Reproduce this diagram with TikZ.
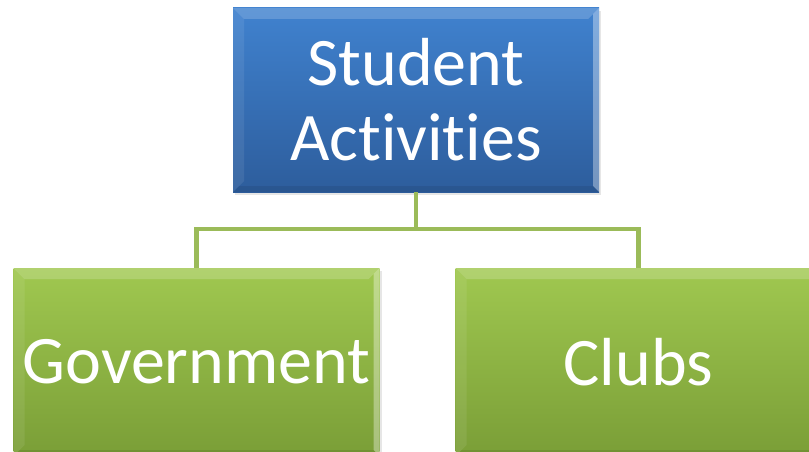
\documentclass[tikz,border=0pt]{standalone}
\usepackage{fontspec}
\setmainfont{Carlito}[Ligatures={NoCommon}]
\usepackage{xcolor}
\usetikzlibrary{shadows}

\definecolor{topblue}{HTML}{4082CF}
\definecolor{botblue}{HTML}{2D5D9C}
\definecolor{topgreen}{HTML}{A0C850}
\definecolor{botgreen}{HTML}{7A9E37}
\definecolor{linkgreen}{HTML}{9BBB59}

\tikzset{
  box/.style={rectangle, minimum width=366pt, minimum height=184pt, inner sep=0pt,
    text=white, align=center, font=\fontsize{68}{75}\selectfont,
    drop shadow={opacity=0.2, shadow xshift=2pt, shadow yshift=-3pt},
    path picture={
      \fill[white, opacity=0.18] (path picture bounding box.north west) -- (path picture bounding box.north east)
        -- ([shift={(-11pt,-11pt)}]path picture bounding box.north east) -- ([shift={(11pt,-11pt)}]path picture bounding box.north west) -- cycle;
      \fill[white, opacity=0.08] (path picture bounding box.north west) -- (path picture bounding box.south west)
        -- ([shift={(11pt,11pt)}]path picture bounding box.south west) -- ([shift={(11pt,-11pt)}]path picture bounding box.north west) -- cycle;
      \fill[white, opacity=0.35] (path picture bounding box.north east) -- (path picture bounding box.south east)
        -- ([shift={(-6pt,6pt)}]path picture bounding box.south east) -- ([shift={(-6pt,-6pt)}]path picture bounding box.north east) -- cycle;
      \fill[black, opacity=0.08] (path picture bounding box.south west) -- (path picture bounding box.south east)
        -- ([shift={(-6pt,6pt)}]path picture bounding box.south east) -- ([shift={(6pt,6pt)}]path picture bounding box.south west) -- cycle;
    }},
  bluebox/.style={box, top color=topblue, bottom color=botblue},
  greenbox/.style={box, minimum height=188pt, top color=topgreen, bottom color=botgreen},
  link/.style={draw=linkgreen, line width=4.5pt}
}

\begin{document}
\begin{tikzpicture}[x=1pt, y=1pt]
\useasboundingbox (0,0) rectangle (809,451);

% boxes
\node[bluebox] (root) at (416,351) {Student\\Activities};
\node[greenbox] (gov) at (196.5,89) {Government};
\node[greenbox] (clubs) at (638.5,89) {Clubs};

% links
\coordinate (bus) at (416,222);
\draw[link] (root.south) -- (bus);
\draw[link] (bus) -| (gov.north);
\draw[link] (bus) -| (clubs.north);

\end{tikzpicture}
\end{document}
